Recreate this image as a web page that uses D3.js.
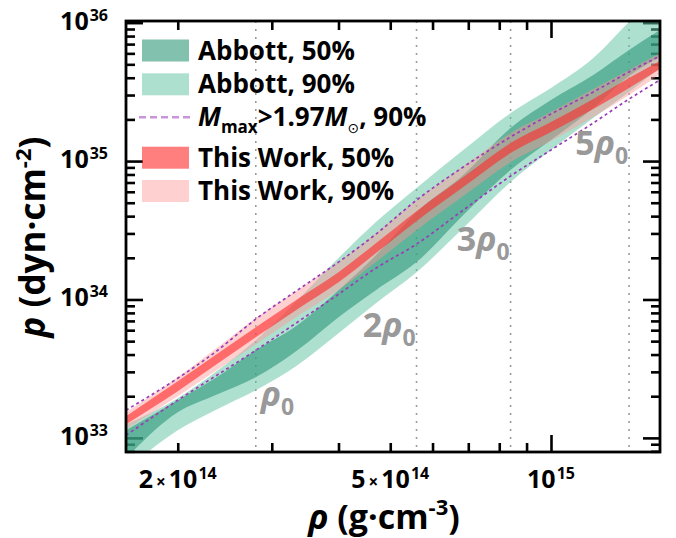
<!DOCTYPE html>
<html>
<head>
<meta charset="utf-8">
<script src="https://cdn.jsdelivr.net/npm/d3@7"></script>
<style>
  body { margin: 0; background: #fff; }
  svg { display: block; font-family: "Open Sans", "Liberation Sans", Arial, sans-serif; font-weight: bold; }
</style>
</head>
<body>
<div id="chart"></div>
<script>

// DATA (density in g/cm^3, pressure given as log10 of dyn/cm^2)
let rho = [1.6e14, 2.0e14, 2.35e14, 2.8e14, 3.35e14, 4.0e14, 4.7e14, 5.6e14, 6.85e14, 8.4e14, 1.0e15, 1.2e15, 1.4e15, 1.6e15];

let abbott90Lo = [32.766, 33.055, 33.200, 33.344, 33.525, 33.756, 33.973, 34.197, 34.516, 34.848, 35.080, 35.311, 35.499, 35.672];
let abbott90Hi = [33.098, 33.286, 33.474, 33.706, 33.995, 34.299, 34.559, 34.805, 35.080, 35.347, 35.528, 35.745, 36.005, 36.222];
let abbott50Lo = [32.853, 33.185, 33.308, 33.438, 33.633, 33.872, 34.067, 34.270, 34.610, 34.935, 35.152, 35.383, 35.615, 35.752];
let abbott50Hi = [33.055, 33.272, 33.431, 33.633, 33.814, 34.067, 34.320, 34.631, 34.899, 35.239, 35.441, 35.622, 35.803, 35.947];

let work90Lo = [33.062, 33.301, 33.482, 33.677, 33.879, 34.067, 34.270, 34.501, 34.747, 34.993, 35.145, 35.318, 35.477, 35.629];
let work90Hi = [33.185, 33.438, 33.641, 33.865, 34.067, 34.270, 34.479, 34.718, 34.964, 35.202, 35.354, 35.521, 35.658, 35.781];
let work50Lo = [33.098, 33.337, 33.525, 33.727, 33.930, 34.125, 34.335, 34.566, 34.812, 35.058, 35.210, 35.376, 35.528, 35.665];
let work50Hi = [33.156, 33.409, 33.597, 33.800, 34.002, 34.197, 34.407, 34.638, 34.884, 35.130, 35.282, 35.448, 35.600, 35.723];

let mmaxLo = [33.019, 33.272, 33.445, 33.633, 33.836, 34.038, 34.226, 34.400, 34.646, 34.892, 35.080, 35.275, 35.448, 35.586];
let mmaxHi = [33.200, 33.431, 33.619, 33.858, 34.067, 34.270, 34.472, 34.718, 34.957, 35.174, 35.340, 35.499, 35.644, 35.759];

// saturation density and multiples marked with dotted lines
let rho0 = 2.8e14;
let rhoMultiples = [1, 2, 3, 5];
let multipleLabelLogP = [33.23, 33.727, 34.349, 35.043];

// tick labels
let xTickLabels = [{v: 2e14, m: "2", e: "14"}, {v: 5e14, m: "5", e: "14"}, {v: 1e15, m: "", e: "15"}];
let yTickLabels = [{v: 1e33, e: "33"}, {v: 1e34, e: "34"}, {v: 1e35, e: "35"}, {v: 1e36, e: "36"}];

let legendItems = ["Abbott, 50%", "Abbott, 90%", "Mmax", "This Work, 50%", "This Work, 90%"];


// COLOURS
let colA90 = "rgba(102,196,166,0.53)",
    colA50 = "rgba(41,149,118,0.59)",
    colW90 = "rgba(255,150,150,0.45)",
    colW50 = "rgba(255,40,40,0.6)",
    colMmax = "#9a3cb8";


// CHART AREA
let margin = {top: 21, right: 16, bottom: 86, left: 126},
    width = 676 - margin.left - margin.right,
    height = 538 - margin.top - margin.bottom;

let root = d3.select("#chart").append("svg")
    .attr("width", 676)
    .attr("height", 538);

let svg = root.append("g")
    .attr("transform", "translate(" + margin.left + "," + margin.top + ")");

root.append("defs").append("clipPath")
    .attr("id", "clip")
    .append("rect")
    .attr("width", width)
    .attr("height", height);


// SCALES
let x = d3.scaleLog()
    .domain([1.6e14, 1.6e15])
    .range([0, width]);

let y = d3.scaleLog()
    .domain([Math.pow(10, 32.898), Math.pow(10, 36.012)])
    .range([height, 0]);

let isDecade = v => Math.abs(Math.log10(v) - Math.round(Math.log10(v))) < 1e-6;

let xMajor = x.ticks().filter(isDecade),
    xMinor = x.ticks().filter(v => !isDecade(v)),
    yMajor = y.ticks().filter(isDecade),
    yMinor = y.ticks().filter(v => !isDecade(v));


// TICKS (inside, on all four sides)
function tickGroup(axis, tx, ty) {
    let g = svg.append("g")
        .attr("transform", "translate(" + tx + "," + ty + ")")
        .call(axis);
    g.select(".domain").remove();
    g.selectAll("line").attr("stroke", "#000").attr("stroke-width", 2.6);
    g.selectAll("text").remove();
    return g;
}

tickGroup(d3.axisBottom(x).tickValues(xMinor).tickSize(-9), 0, height);
tickGroup(d3.axisBottom(x).tickValues(xMajor).tickSize(-17), 0, height);
tickGroup(d3.axisTop(x).tickValues(xMinor).tickSize(-9), 0, 0);
tickGroup(d3.axisTop(x).tickValues(xMajor).tickSize(-17), 0, 0);
tickGroup(d3.axisLeft(y).tickValues(yMinor).tickSize(-9), 0, 0);
tickGroup(d3.axisLeft(y).tickValues(yMajor).tickSize(-17), 0, 0);
tickGroup(d3.axisRight(y).tickValues(yMinor).tickSize(-9), width, 0);
tickGroup(d3.axisRight(y).tickValues(yMajor).tickSize(-17), width, 0);


// DOTTED DENSITY LINES
svg.append("g").selectAll("line")
    .data(rhoMultiples)
    .enter()
    .append("line")
    .attr("x1", d => x(d * rho0))
    .attr("x2", d => x(d * rho0))
    .attr("y1", 0)
    .attr("y2", height)
    .attr("stroke", "#9a9a9a")
    .attr("stroke-width", 1.6)
    .attr("stroke-dasharray", "2,6");


// BANDS
let plot = svg.append("g").attr("clip-path", "url(#clip)");

function band(lo, hi) {
    return rho.map((r, i) => ({rho: r, lo: Math.pow(10, lo[i]), hi: Math.pow(10, hi[i])}));
}

let area = d3.area()
    .x(d => x(d.rho))
    .y0(d => y(d.lo))
    .y1(d => y(d.hi))
    .curve(d3.curveMonotoneX);

[[abbott90Lo, abbott90Hi, colA90],
 [abbott50Lo, abbott50Hi, colA50],
 [work90Lo, work90Hi, colW90],
 [work50Lo, work50Hi, colW50]].forEach(b => {
    plot.append("path")
        .datum(band(b[0], b[1]))
        .attr("d", area)
        .attr("fill", b[2]);
});

let line = d3.line()
    .x((d, i) => x(rho[i]))
    .y(d => y(Math.pow(10, d)))
    .curve(d3.curveMonotoneX);

[mmaxLo, mmaxHi].forEach(s => {
    plot.append("path")
        .datum(s)
        .attr("d", line)
        .attr("fill", "none")
        .attr("stroke", colMmax)
        .attr("stroke-width", 1.7)
        .attr("stroke-dasharray", "3,3");
});


// FRAME
svg.append("rect")
    .attr("width", width)
    .attr("height", height)
    .attr("fill", "none")
    .attr("stroke", "#000")
    .attr("stroke-width", 2.8);


// DENSITY LABELS
let rhoLabels = svg.append("g").attr("fill", "#999");
rhoMultiples.forEach((n, i) => {
    let t = rhoLabels.append("text")
        .attr("x", n === 1 ? x(rho0) + 5 : x(n * rho0) - 1)
        .attr("y", y(Math.pow(10, multipleLabelLogP[i])))
        .attr("text-anchor", n === 1 ? "start" : "end")
        .attr("font-size", 34);
    if (n > 1) t.append("tspan").text(n);
    t.append("tspan").attr("font-style", "italic").text("ρ");
    t.append("tspan").attr("font-size", 23).attr("dy", 9).text("0");
});


// LEGEND
let legend = svg.append("g").attr("transform", "translate(16,0)");
let legendRows = [29.5, 63.3, 96.3, 136.7, 170];
let legendFill = [colA50, colA90, null, colW50, colW90];

legendItems.forEach((name, i) => {
    let cy = legendRows[i];
    if (legendFill[i]) {
        legend.append("rect")
            .attr("x", 0)
            .attr("y", cy - 11)
            .attr("width", 47)
            .attr("height", 22)
            .attr("fill", legendFill[i]);
    } else {
        legend.append("line")
            .attr("x1", -3).attr("x2", 50)
            .attr("y1", cy).attr("y2", cy)
            .attr("stroke", "#c994d8")
            .attr("stroke-width", 2.6)
            .attr("stroke-dasharray", "7,4");
    }
    let t = legend.append("text")
        .attr("x", 56)
        .attr("y", cy + 9)
        .attr("font-size", 26);
    if (name === "Mmax") {
        t.append("tspan").attr("font-style", "italic").text("M");
        t.append("tspan").attr("font-size", 17).attr("dy", 7).text("max");
        t.append("tspan").attr("dy", -7).text(">1.97");
        t.append("tspan").attr("font-style", "italic").text("M");
        t.append("tspan").attr("font-size", 14).attr("font-weight", "normal")
            .attr("font-family", "DejaVu Sans").attr("dy", 7).text("\u2299");
        t.append("tspan").attr("dy", -7).text(", 90%");
    } else {
        t.text(name);
    }
});


// TICK LABELS (pieces laid out side by side, then centred on the tick)
let xLabels = svg.append("g");
xTickLabels.forEach(d => {
    let g = xLabels.append("g");
    let parts = d.m
        ? [[d.m, 25, 0, 3], ["×", 17, 0, 3], ["10", 25, 0, 1], [d.e, 16, -9, 0]]
        : [["10", 25, 0, 1], [d.e, 16, -9, 0]];
    let pos = 0;
    parts.forEach(p => {
        let t = g.append("text")
            .attr("x", pos)
            .attr("y", p[2])
            .attr("font-size", p[1])
            .text(p[0]);
        pos += t.node().getComputedTextLength() + p[3];
    });
    g.attr("transform", "translate(" + (x(d.v) - pos / 2) + "," + (height + 36) + ")");
});

let yLabels = svg.append("g");
yTickLabels.forEach(d => {
    let t = yLabels.append("text")
        .attr("x", -18)
        .attr("y", y(d.v) + 7)
        .attr("text-anchor", "end")
        .attr("font-size", 25);
    t.append("tspan").text("10");
    t.append("tspan").attr("font-size", 16).attr("dx", 1).attr("dy", -9).text(d.e);
});


// AXIS TITLES
let xTitle = root.append("text")
    .attr("x", 384)
    .attr("y", 529)
    .attr("text-anchor", "middle")
    .attr("font-size", 34);
xTitle.append("tspan").attr("font-style", "italic").text("ρ");
xTitle.append("tspan").text(" (g·cm");
xTitle.append("tspan").attr("font-size", 22).attr("dy", -14).text("-3");
xTitle.append("tspan").attr("dy", 14).text(")");

let yTitle = root.append("text")
    .attr("transform", "translate(45,237) rotate(-90)")
    .attr("text-anchor", "middle")
    .attr("font-size", 35);
yTitle.append("tspan").attr("font-style", "italic").text("p");
yTitle.append("tspan").text(" (dyn·cm");
yTitle.append("tspan").attr("font-size", 22).attr("dy", -14).text("-2");
yTitle.append("tspan").attr("dy", 14).text(")");

</script>
</body>
</html>
